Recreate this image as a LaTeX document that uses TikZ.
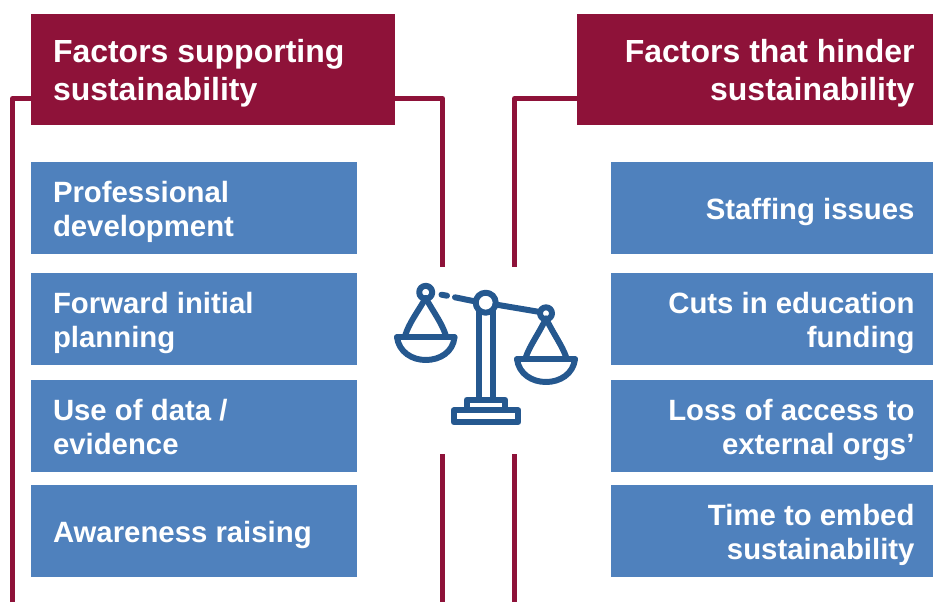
\documentclass[tikz,border=0pt]{standalone}
\usepackage{fontspec}
\setmainfont{Liberation Sans}
\definecolor{crimsonbar}{HTML}{8E1239}
\definecolor{factorblue}{HTML}{4F81BD}
\definecolor{scaleblue}{HTML}{25588F}
\tikzset{
	titlenode/.style={rectangle, fill=crimsonbar, text=white, minimum height=111*0.02cm, inner ysep=0pt, font=\bfseries\fontsize{18.2}{21.5}\selectfont,
		execute at begin node={\spaceskip=0.278em\leavevmode\rule{0pt}{19.4pt}}, execute at end node={\rule[-6.1pt]{0pt}{6.1pt}}},
	factornode/.style={rectangle, fill=factorblue, text=white, minimum height=92*0.02cm, inner ysep=0pt, font=\bfseries\fontsize{16.7}{19.6}\selectfont,
		execute at begin node={\spaceskip=0.278em\leavevmode\rule{0pt}{18.4pt}}, execute at end node={\rule[-5.5pt]{0pt}{5.5pt}}},
	leftfactor/.style={factornode, minimum width=326*0.02cm, text width=282*0.02cm, inner xsep=22*0.02cm, align=left},
	rightfactor/.style={factornode, minimum width=322*0.02cm, text width=285*0.02cm, inner xsep=18.5*0.02cm, align=right},
	framepath/.style={crimsonbar, line width=2.9pt, line join=round},
	scalepath/.style={scaleblue, line width=3.4pt, line join=round, line cap=round}
}
\begin{document}
\begin{tikzpicture}[x=0.02cm,y=-0.02cm]
	\useasboundingbox (0,0) rectangle (933,602);
	% frame lines
	\coordinate (leftlow) at (12.5,602);
	\coordinate (lefttop) at (12.5,98.5);
	\coordinate (midtop) at (442.5,98.5);
	\coordinate (midbreak) at (442.5,266.5);
	\coordinate (midresume) at (442.5,454);
	\coordinate (midlow) at (442.5,602);
	\coordinate (righttop) at (514.5,98.5);
	\coordinate (rightbreak) at (514.5,266.5);
	\coordinate (rightresume) at (514.5,454);
	\coordinate (rightlow) at (514.5,602);
	\coordinate (supportin) at (100,98.5);
	\coordinate (supportout) at (300,98.5);
	\coordinate (hinderin) at (640,98.5);
	\draw[framepath] (leftlow) -- (lefttop) -- (supportin);
	\draw[framepath] (supportout) -- (midtop) -- (midbreak);
	\draw[framepath] (midresume) -- (midlow);
	\draw[framepath] (rightbreak) -- (righttop) -- (hinderin);
	\draw[framepath] (rightresume) -- (rightlow);
	% titles
	\node[titlenode, minimum width=364*0.02cm, text width=320*0.02cm, inner xsep=22*0.02cm, align=left] (supporttitle) at (213,69.5) {Factors supporting\\sustainability};
	\node[titlenode, minimum width=356*0.02cm, text width=319*0.02cm, inner xsep=18.5*0.02cm, align=right] (hindertitle) at (755,69.5) {Factors that hinder\\sustainability};
	% left boxes
	\node[leftfactor] (devbox) at (194,208) {Professional\\development};
	\node[leftfactor] (planbox) at (194,319) {Forward initial\\planning};
	\node[leftfactor] (databox) at (194,426) {Use of data /\\evidence};
	\node[leftfactor] (awarebox) at (194,531) {Awareness raising};
	% right boxes
	\node[rightfactor] (staffbox) at (772,208) {Staffing issues};
	\node[rightfactor] (cutsbox) at (772,319) {Cuts in education\\funding};
	\node[rightfactor] (lossbox) at (772,426) {Loss of access to\\external orgs’};
	\node[rightfactor] (timebox) at (772,531) {Time to embed\\sustainability};
	% scales
	\draw[scalepath] (485.7,302.7) circle (10*0.02cm);
	\draw[scalepath] (425.7,292.3) circle (6.5*0.02cm);
	\draw[scalepath] (546,313.3) circle (6*0.02cm);
	\draw[scalepath] (495.5,304.5) -- (540,312);
	\draw[scalepath] (455,297.3) -- (473,301);
	\draw[scalepath] (441.5,294.7) -- (447,295.7);
	\draw[scalepath] (479,311) -- (479,399);
	\draw[scalepath] (493,311) -- (493,399);
	\draw[scalepath] (466.7,410) -- (466.7,399.7) -- (505,399.7) -- (505,410);
	\draw[scalepath] (453.7,410.3) rectangle (518.3,422);
	% left pan
	\draw[scalepath] (425.7,298) .. controls (417,313) and (409,323) .. (405,336);
	\draw[scalepath] (425.7,298) .. controls (434,313) and (442,323) .. (446,336);
	\draw[scalepath] (397,337.3) -- (454.5,337.3);
	\draw[scalepath] (397,337.3) .. controls (399,352) and (412,360) .. (425.7,360) .. controls (440,360) and (453,352) .. (454.5,337.3);
	% right pan
	\draw[scalepath] (546,318.5) .. controls (538,335) and (530,345) .. (525.5,358);
	\draw[scalepath] (546,318.5) .. controls (554,335) and (562,345) .. (566.5,358);
	\draw[scalepath] (517,359.3) -- (575,359.3);
	\draw[scalepath] (517,359.3) .. controls (519,374) and (532,382) .. (546,382) .. controls (560,382) and (573,374) .. (575,359.3);
\end{tikzpicture}
\end{document}
